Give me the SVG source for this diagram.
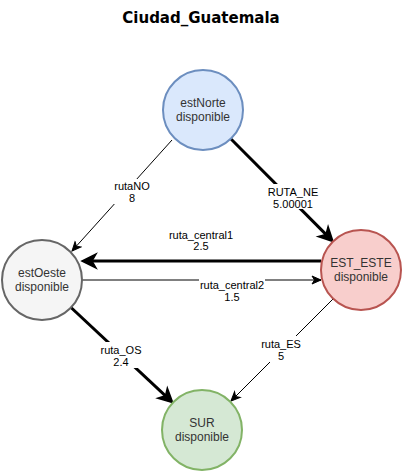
<svg xmlns="http://www.w3.org/2000/svg" width="403" height="472" viewBox="0 0 403 472">
<style>
.node{stroke-width:2}
.nt{font-family:"Liberation Sans",Arial,sans-serif;font-size:12px;fill:#333;text-anchor:middle}
.lt{font-family:"Liberation Sans",Arial,sans-serif;font-size:11px;fill:#000;text-anchor:middle}
.thin{stroke:#000;stroke-width:1;fill:none}
.thick{stroke:#000;stroke-width:3;fill:none}
.lbg{fill:#fff}
.title{font-family:"Comic Sans MS","DejaVu Sans",sans-serif;font-size:15px;font-weight:bold;text-anchor:middle;fill:#000}
</style>
<defs>
<marker id="aThin" markerUnits="userSpaceOnUse" markerWidth="12" markerHeight="12" viewBox="-10 -6 12 12" refX="0" refY="0" orient="auto">
<path d="M0,0 L-9,-4 L-6.5,0 L-9,4 Z" fill="#000" stroke="#000" stroke-width="1"/>
</marker>
<marker id="aThick" markerUnits="userSpaceOnUse" markerWidth="20" markerHeight="20" viewBox="-16 -10 20 20" refX="-3" refY="0" orient="auto">
<path d="M0,0 L-14,-7 L-10,0 L-14,7 Z" fill="#000" stroke="#000" stroke-width="1.5"/>
</marker>
</defs>
<rect width="403" height="472" fill="#fff"/>
<text class="title" x="201" y="23">Ciudad_Guatemala</text>
<g id="edges">
<g id="e-rutaNO">
<line class="thin" x1="172" y1="140" x2="72" y2="251" marker-end="url(#aThin)"/>
<rect class="lbg" x="113" y="179" width="38" height="25"/>
<text class="lt" x="132" y="190">rutaNO</text>
<text class="lt" x="132" y="202">8</text>
</g>
<g id="e-RUTA_NE">
<line class="thick" x1="231" y1="139" x2="330.9" y2="239.4" marker-end="url(#aThick)"/>
<rect class="lbg" x="268" y="184" width="50" height="25"/>
<text class="lt" x="293" y="196">RUTA_NE</text>
<text class="lt" x="293" y="208">5.00001</text>
</g>
<g id="e-central1">
<line class="thick" x1="321" y1="261" x2="85" y2="261" marker-end="url(#aThick)"/>
<text class="lt" x="201" y="239">ruta_central1</text>
<text class="lt" x="201" y="250">2.5</text>
</g>
<g id="e-central2">
<line class="thin" x1="82" y1="280" x2="321" y2="280" marker-end="url(#aThin)"/>
<rect class="lbg" x="199" y="279" width="66" height="25"/>
<text class="lt" x="232" y="289">ruta_central2</text>
<text class="lt" x="232" y="301">1.5</text>
</g>
<g id="e-rutaOS">
<line class="thick" x1="71" y1="307.5" x2="170.6" y2="400.6" marker-end="url(#aThick)"/>
<rect class="lbg" x="99" y="342" width="44" height="26"/>
<text class="lt" x="121" y="354">ruta_OS</text>
<text class="lt" x="121" y="366">2.4</text>
</g>
<g id="e-rutaES">
<line class="thin" x1="333" y1="299" x2="231" y2="401" marker-end="url(#aThin)"/>
<rect class="lbg" x="260" y="336" width="42" height="26"/>
<text class="lt" x="281" y="348">ruta_ES</text>
<text class="lt" x="281" y="360">5</text>
</g>
</g>
<g id="estNorte">
<circle class="node" cx="203" cy="110" r="40" fill="#dae8fc" stroke="#6c8ebf"/>
<text class="nt" x="203" y="107">estNorte</text>
<text class="nt" x="203" y="121">disponible</text>
</g>
<g id="estOeste">
<circle class="node" cx="42" cy="280" r="40" fill="#f5f5f5" stroke="#666666"/>
<text class="nt" x="42" y="277">estOeste</text>
<text class="nt" x="42" y="291">disponible</text>
</g>
<g id="EST_ESTE">
<circle class="node" cx="361" cy="270" r="40" fill="#f8cecc" stroke="#b85450"/>
<text class="nt" x="361" y="267">EST_ESTE</text>
<text class="nt" x="361" y="281">disponible</text>
</g>
<g id="SUR">
<circle class="node" cx="202" cy="430" r="40" fill="#d5e8d4" stroke="#82b366"/>
<text class="nt" x="202" y="427">SUR</text>
<text class="nt" x="202" y="441">disponible</text>
</g>
</svg>
